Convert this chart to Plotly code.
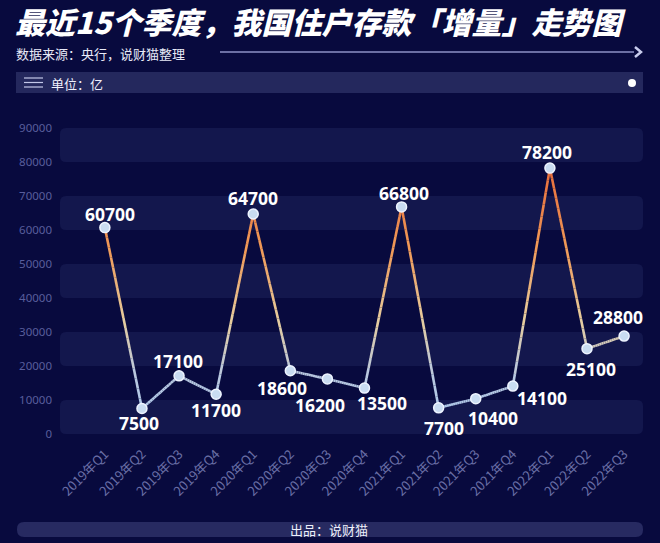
import plotly.graph_objects as go
from plotly.colors import sample_colorscale

# ---------------- data ----------------
quarters = ["2019年Q1", "2019年Q2", "2019年Q3", "2019年Q4",
            "2020年Q1", "2020年Q2", "2020年Q3", "2020年Q4",
            "2021年Q1", "2021年Q2", "2021年Q3", "2021年Q4",
            "2022年Q1", "2022年Q2", "2022年Q3"]
deposits = [60700, 7500, 17100, 11700,
            64700, 18600, 16200, 13500,
            66800, 7700, 10400, 14100,
            78200, 25100, 28800]
y_ticks = [0, 10000, 20000, 30000, 40000, 50000, 60000, 70000, 80000, 90000]
y_tick_text = ["0", "10000", "20000", "30000", "40000", "50000",
               "60000", "70000", "80000", "90000"]

# label offsets in pixels (style only)
label_dx = [5, -3, -1, 0, 0, -8, -7, 18, 2, 5, 17, 29, -3, 4, -6]
label_dy = [14, -14, 15, -16, 16, -17, -26, -15, 14, -20, -19, -12, 16, -20, 19]

# ---------------- layout geometry ----------------
W, H = 660, 543
PL, PR, PT, PB = 60, 643, 128, 434
BG = "#080a3e"
BAND = "#13174d"


def px(x):
    return (x - PL) / (PR - PL)


def py(y):
    return (PB - y) / (PB - PT)


line_scale = [[0.0, "#a9c9ef"], [0.22, "#b9c8e0"], [0.42, "#e6cc9e"],
              [0.68, "#f09a58"], [1.0, "#e66a3a"]]
YMAX = 90000

fig = go.Figure()

# gradient line: each segment drawn as small pieces colored by value
n_sub = 18
for i in range(len(deposits) - 1):
    x0, x1 = i, i + 1
    y0, y1 = deposits[i], deposits[i + 1]
    for k in range(n_sub):
        t0, t1 = k / n_sub, (k + 1) / n_sub
        ya, yb = y0 + (y1 - y0) * t0, y0 + (y1 - y0) * t1
        xa, xb = x0 + (x1 - x0) * t0, x0 + (x1 - x0) * t1
        c = sample_colorscale(line_scale, [min(1, ((ya + yb) / 2) / 80000)])[0]
        fig.add_trace(go.Scatter(x=[xa, xb], y=[ya, yb], mode="lines",
                                 line=dict(color=c, width=2.6),
                                 hoverinfo="skip", showlegend=False,
                                 cliponaxis=False))

fig.add_trace(go.Scatter(
    x=list(range(len(quarters))), y=deposits, mode="markers",
    marker=dict(size=10, color="#c9dcf1", line=dict(color="#eef4ff", width=1.5)),
    showlegend=False, cliponaxis=False))

# data labels
for i, v in enumerate(deposits):
    fig.add_annotation(x=i, y=v, xref="x", yref="y", text=f"{v}",
                       showarrow=False, xshift=label_dx[i], yshift=label_dy[i],
                       font=dict(family="Noto Sans", size=17.5, color="white", weight="bold"))

shapes = []
# bands
rx, ry = 6 / (PR - PL), 6 / (PB - PT) * YMAX
for lo in [0, 20000, 40000, 60000, 80000]:
    hi = lo + 10000
    path = (f"M {rx},{lo} L {1-rx},{lo} Q 1,{lo} 1,{lo+ry} L 1,{hi-ry} Q 1,{hi} {1-rx},{hi} "
            f"L {rx},{hi} Q 0,{hi} 0,{hi-ry} L 0,{lo+ry} Q 0,{lo} {rx},{lo} Z")
    shapes.append(dict(type="path", xref="paper", yref="y", path=path,
                       fillcolor=BAND, line=dict(width=0), layer="below"))

# header line and chevron
shapes.append(dict(type="line", xref="paper", yref="paper", x0=px(220), x1=px(634),
                   y0=py(52), y1=py(52), line=dict(color="#8c92c6", width=1.5)))
shapes.append(dict(type="path", xref="paper", yref="paper",
                   path=f"M {px(635)},{py(47)} L {px(641)},{py(52)} L {px(635)},{py(57)}",
                   line=dict(color="#c8cced", width=2.5)))
# unit bar
shapes.append(dict(type="rect", xref="paper", yref="paper", x0=px(16), x1=px(643),
                   y0=py(93), y1=py(72), fillcolor="#24285d", line=dict(width=0)))
for yy in [78, 82.5, 87]:
    shapes.append(dict(type="line", xref="paper", yref="paper", x0=px(24), x1=px(43),
                       y0=py(yy), y1=py(yy), line=dict(color="#c4c8ea", width=1.2)))
shapes.append(dict(type="circle", xref="paper", yref="paper", x0=px(628), x1=px(636),
                   y0=py(87), y1=py(79), fillcolor="white", line=dict(width=0)))
# footer bar (rounded)
fx0, fx1, fy0, fy1, fr = 17, 643, 522, 537, 7
fpath = (f"M {px(fx0+fr)},{py(fy0)} L {px(fx1-fr)},{py(fy0)} Q {px(fx1)},{py(fy0)} {px(fx1)},{py(fy0+fr)} "
         f"L {px(fx1)},{py(fy1-fr)} Q {px(fx1)},{py(fy1)} {px(fx1-fr)},{py(fy1)} "
         f"L {px(fx0+fr)},{py(fy1)} Q {px(fx0)},{py(fy1)} {px(fx0)},{py(fy1-fr)} "
         f"L {px(fx0)},{py(fy0+fr)} Q {px(fx0)},{py(fy0)} {px(fx0+fr)},{py(fy0)} Z")
shapes.append(dict(type="path", xref="paper", yref="paper", path=fpath,
                   fillcolor="#272a61", line=dict(width=0)))

annotations = [
    dict(xref="paper", yref="paper", x=px(13), y=py(21), xanchor="left", yanchor="middle",
         text="最近15个季度，我国住户存款「增量」走势图", showarrow=False,
         font=dict(family="Noto Sans CJK SC", size=30, color="white", weight=900, style="italic")),
    dict(xref="paper", yref="paper", x=px(14), y=py(53), xanchor="left", yanchor="middle",
         text="数据来源：央行，说财猫整理", showarrow=False,
         font=dict(family="Noto Sans CJK SC", size=13, color="#e8eaf8")),
    dict(xref="paper", yref="paper", x=px(49), y=py(83), xanchor="left", yanchor="middle",
         text="单位：亿", showarrow=False,
         font=dict(family="Noto Sans CJK SC", size=13, color="#eef0fb")),
    dict(xref="paper", yref="paper", x=px(329), y=py(529.5), xanchor="center", yanchor="middle",
         text="出品：说财猫", showarrow=False,
         font=dict(family="Noto Sans CJK SC", size=13, color="#eef0fb")),
]

fig.update_layout(
    width=W, height=H,
    margin=dict(l=PL, r=W - PR, t=PT, b=H - PB, pad=0),
    paper_bgcolor=BG, plot_bgcolor=BG,
    shapes=shapes,
    showlegend=False,
    xaxis=dict(range=[-1.21, 14.51], tickmode="array", tickvals=list(range(len(quarters))),
               ticktext=quarters, tickangle=-45, showgrid=False, zeroline=False,
               showline=False, ticks="", ticklabelstandoff=9,
               tickfont=dict(family="Noto Sans CJK SC", size=13, color="#6a6fa6")),
    yaxis=dict(range=[0, 90000], tickmode="array", tickvals=y_ticks, ticktext=y_tick_text,
               showgrid=False, zeroline=False, showline=False, ticks="",
               ticklabelstandoff=7,
               tickfont=dict(family="Noto Sans", size=11.5, color="#585e9c")),
)
for a in annotations:
    fig.add_annotation(**a)

fig.write_html("out.html")
